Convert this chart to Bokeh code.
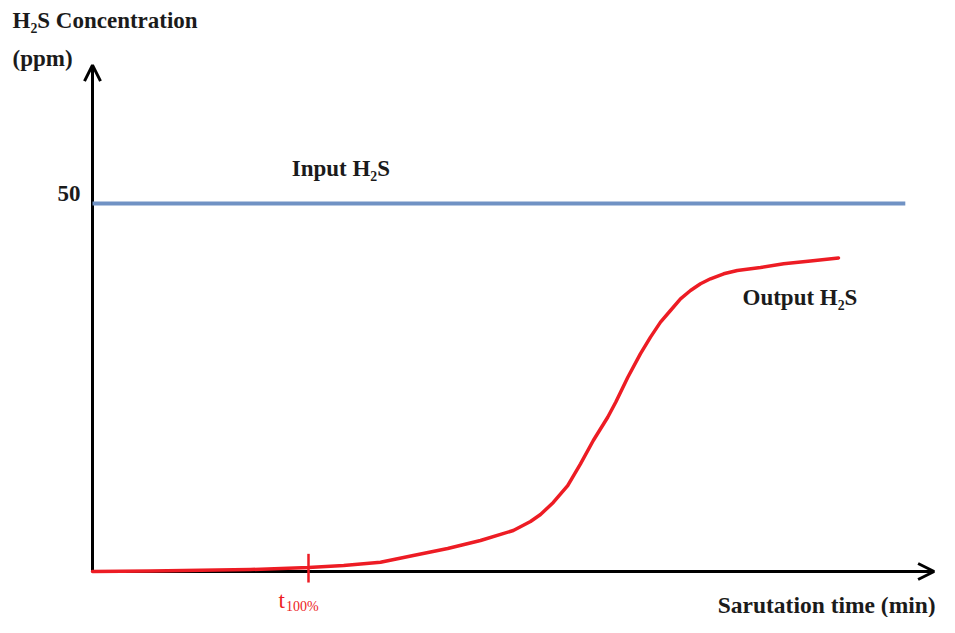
from bokeh.plotting import figure
from bokeh.models import Arrow, OpenHead, Label, Range1d
from bokeh.embed import file_html
from bokeh.resources import INLINE

# ---- data (time in arbitrary minute units, concentration in ppm) ----
time_min = [0, 7.25, 19.75, 27, 31.4, 36, 40.1, 44.4, 48.5, 52.6, 54.75, 56,
            57.6, 59.4, 61, 62.6, 64.4, 65.4, 66.9, 68.5, 69.75, 71, 72.25,
            73.5, 74.75, 76, 77.25, 78.9, 80.6, 83.5, 86.4, 89.75, 93.25]
output_ppm = [0, 0.07, 0.27, 0.54, 0.82, 1.26, 2.17, 3.13, 4.21, 5.57, 6.79,
              7.74, 9.38, 11.68, 14.63, 17.8, 20.96, 23.0, 26.36, 29.6, 31.84,
              33.88, 35.46, 37.05, 38.18, 39.09, 39.77, 40.45, 40.9, 41.3,
              41.8, 42.2, 42.6]
input_time = [0, 101.6]
input_ppm = [50, 50]
t100 = 27
y_tick_values = [50]
y_tick_labels = ["50"]
axis_time_end = 105.2
axis_ppm_end = 68.8

RED = "#ed1c24"
BLUE = "#7092c4"
INK = "#1b1b1b"
FONT = "Liberation Serif"

p = figure(width=939, height=617, output_backend="svg", toolbar_location=None,
           x_range=Range1d(-11.5, 105.875), y_range=Range1d(-6.25, 77.58),
           x_axis_type=None, y_axis_type=None, min_border=0,
           outline_line_color=None, background_fill_color="white")
p.grid.visible = False

# axes with arrow heads
p.add_layout(Arrow(x_start=0, y_start=0, x_end=0, y_end=axis_ppm_end,
                   line_width=3, line_color="black", level="underlay",
                   end=OpenHead(size=16, line_width=3, line_color="black")))
p.add_layout(Arrow(x_start=0, y_start=0, x_end=axis_time_end, y_end=0,
                   line_width=3, line_color="black", level="underlay",
                   end=OpenHead(size=16, line_width=3, line_color="black")))

# input and output curves
p.line(input_time, input_ppm, line_color=BLUE, line_width=4)
p.line(time_min, output_ppm, line_color=RED, line_width=3.5,
       line_join="round", line_cap="round")
p.segment(x0=[t100], y0=[-1.5], x1=[t100], y1=[2.4], line_color=RED, line_width=2.5)

def lab(x, y, text, size, color=INK, align="left", style="bold"):
    p.add_layout(Label(x=x, y=y, text=text, text_font=FONT,
                       text_font_size=f"{size}px", text_font_style=style,
                       text_color=color, text_align=align, text_baseline="middle"))

lab(-10, 74.9, "H₂S Concentration", 23)
lab(-10, 69.7, "(ppm)", 23)
for v, t in zip(y_tick_values, y_tick_labels):
    lab(-1.5, v + 1.36, t, 23, align="right")
lab(24.9, 54.8, "Input H₂S", 23)
lab(81.25, 37.2, "Output H₂S", 23)
lab(23.25, -3.9, "t", 23, color=RED, style="normal")
lab(24.2, -4.7, "100%", 14, color=RED, style="normal")
lab(105.4, -4.5, "Sarutation time (min)", 23.5, align="right")

open("out.html", "w").write(file_html(p, INLINE))
